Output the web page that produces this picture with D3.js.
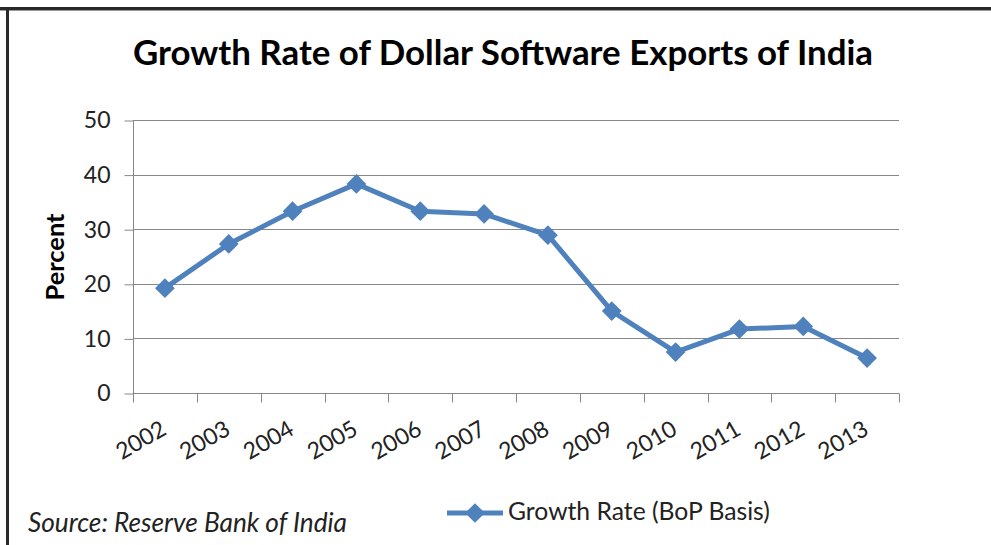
<!DOCTYPE html>
<html>
<head>
<meta charset="utf-8">
<script src="https://cdn.jsdelivr.net/npm/d3@7"></script>
<style>
  html, body { margin: 0; padding: 0; background: #ffffff; }
  svg { display: block; }
</style>
</head>
<body>
<svg id="chart" width="991" height="545"></svg>
<script>
// ---- data ----
const years = ["2002","2003","2004","2005","2006","2007","2008","2009","2010","2011","2012","2013"];
const growthRate = [19.2, 27.3, 33.3, 38.3, 33.3, 32.8, 28.9, 15.0, 7.5, 11.7, 12.2, 6.4];
const yTicks = [0, 10, 20, 30, 40, 50];
const titleText = "Growth Rate of Dollar Software Exports of India";
const yAxisTitle = "Percent";
const seriesName = "Growth Rate (BoP Basis)";
const sourceText = "Source: Reserve Bank of India";

// ---- layout ----
const W = 991, H = 545;
const plot = { left: 133, right: 899, top: 120, bottom: 393 };
const lineColor = "#4f81bd";
const gridColor = "#878787";
const textColor = "#222222";
const font = "Lato, 'Open Sans', 'DejaVu Sans', sans-serif";

const svg = d3.select("#chart");
svg.append("rect").attr("width", W).attr("height", H).attr("fill", "#ffffff");

function fitWidth(sel, target) {
  const node = sel.node();
  const fs = parseFloat(sel.attr("font-size"));
  const len = node.getComputedTextLength();
  if (len > 0) sel.attr("font-size", (fs * target / len).toFixed(2));
}

// border (top + left)
svg.append("line").attr("x1", 0).attr("x2", W).attr("y1", 8.5).attr("y2", 8.5)
  .attr("stroke", "#2a2a2a").attr("stroke-width", 3);
svg.append("line").attr("x1", 0).attr("x2", W).attr("y1", 10.5).attr("y2", 10.5)
  .attr("stroke", "#9a9a9a").attr("stroke-width", 1);
svg.append("line").attr("x1", 7.5).attr("x2", 7.5).attr("y1", 7).attr("y2", H)
  .attr("stroke", "#2a2a2a").attr("stroke-width", 3);

// scales
const x = d3.scaleBand().domain(years).range([plot.left, plot.right]);
const y = d3.scaleLinear().domain([0, 50]).range([plot.bottom, plot.top]);

// gridlines
svg.append("g").selectAll("line").data(yTicks.filter(d => d > 0)).join("line")
  .attr("x1", plot.left).attr("x2", plot.right)
  .attr("y1", d => Math.round(y(d)) + 0.5).attr("y2", d => Math.round(y(d)) + 0.5)
  .attr("stroke", gridColor).attr("stroke-width", 1);

// y axis
const yAxis = d3.axisLeft(y).tickValues(yTicks).tickSize(9).tickPadding(14)
  .tickFormat(d3.format("d"));
const yg = svg.append("g").attr("transform", `translate(${plot.left + 0.5},0.5)`).call(yAxis);
yg.select(".domain").attr("stroke", gridColor).attr("d", `M-0,${plot.top}V${plot.bottom}`);
yg.selectAll(".tick line").attr("stroke", gridColor);
yg.selectAll(".tick text").attr("font-family", font).attr("font-size", 23)
  .attr("fill", textColor);

// x axis
const xg = svg.append("g").attr("transform", `translate(0,${plot.bottom + 0.5})`);
xg.append("line").attr("x1", plot.left).attr("x2", plot.right).attr("y1", 0).attr("y2", 0)
  .attr("stroke", gridColor);
const xTickPos = years.map(d => x(d)).concat([plot.right]);
xg.selectAll("line.tk").data(xTickPos).join("line").attr("class", "tk")
  .attr("x1", d => Math.round(d) + 0.5).attr("x2", d => Math.round(d) + 0.5)
  .attr("y1", 0).attr("y2", 9).attr("stroke", gridColor);
xg.selectAll("text").data(years).join("text")
  .attr("transform", d => `translate(${x(d) + x.bandwidth() / 2 + 3},40) rotate(-30)`)
  .attr("text-anchor", "end")
  .attr("font-family", font).attr("font-size", 23).attr("fill", textColor)
  .text(d => d);

// series line
const pts = years.map((d, i) => [x(d) + x.bandwidth() / 2, y(growthRate[i])]);
svg.append("path").datum(pts)
  .attr("d", d3.line())
  .attr("fill", "none").attr("stroke", lineColor).attr("stroke-width", 5)
  .attr("stroke-linejoin", "round");

const diamond = d3.symbol().type(d3.symbolSquare).size(195);
svg.append("g").selectAll("path").data(pts).join("path")
  .attr("d", diamond)
  .attr("transform", d => `translate(${d[0]},${d[1]}) rotate(45)`)
  .attr("fill", lineColor);

// title
const t = svg.append("text").attr("x", 503).attr("y", 65)
  .attr("text-anchor", "middle").attr("font-family", font).attr("font-weight", 700)
  .attr("font-size", 30).attr("fill", "#000").text(titleText);
fitWidth(t, 740);

// y axis title
const yt = svg.append("text")
  .attr("transform", "translate(64,257) rotate(-90)")
  .attr("text-anchor", "middle").attr("font-family", font).attr("font-weight", 700)
  .attr("font-size", 20).attr("fill", "#000").text(yAxisTitle);
fitWidth(yt, 87);

// legend
svg.append("line").attr("x1", 447).attr("x2", 503).attr("y1", 513).attr("y2", 513)
  .attr("stroke", lineColor).attr("stroke-width", 5);
svg.append("path").attr("d", diamond)
  .attr("transform", "translate(475,513) rotate(45)").attr("fill", lineColor);
const lt = svg.append("text").attr("x", 508).attr("y", 520)
  .attr("font-family", font).attr("font-size", 21).attr("fill", textColor).text(seriesName);
fitWidth(lt, 262);

// source
const st = svg.append("text").attr("x", 28).attr("y", 532)
  .attr("font-family", font).attr("font-style", "italic").attr("font-size", 20)
  .attr("fill", textColor).text(sourceText);
fitWidth(st, 319);
</script>
</body>
</html>
